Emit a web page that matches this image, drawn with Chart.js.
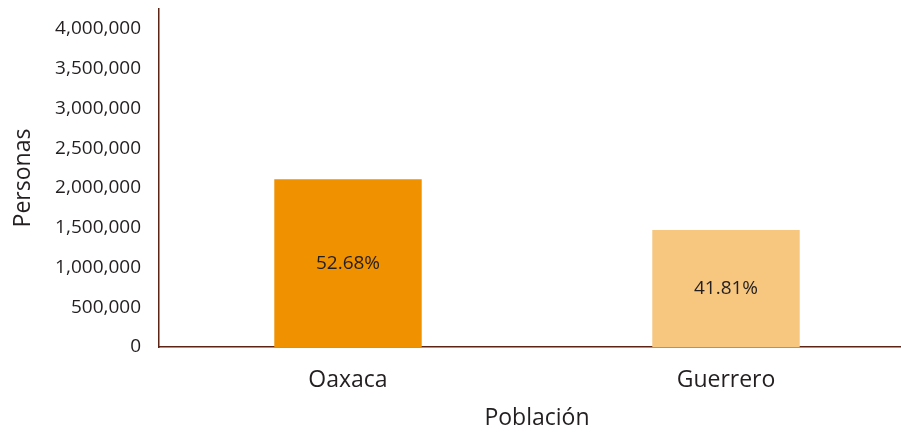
<!DOCTYPE html>
<html>
<head>
<meta charset="utf-8">
<script src="https://cdn.jsdelivr.net/npm/chart.js@4"></script>
<style>
html,body{margin:0;padding:0;background:#fff;overflow:hidden;width:901px;height:432px;}
canvas{display:block;}
</style>
</head>
<body>
<canvas id="c" width="915" height="432"></canvas>
<script>
const categories = ['Oaxaca', 'Guerrero'];
const population = [2110000, 1470000];
const percentLabels = ['52.68%', '41.81%'];
const barColors = ['#F09100', '#F7C77F'];
const yTicks = [0, 500000, 1000000, 1500000, 2000000, 2500000, 3000000, 3500000, 4000000];
const yMax = 4250000;

const textColor = '#231F20';
const axisColor = '#5E2314';
const fontFamily = '"Open Sans", sans-serif';

const barLabelPlugin = {
  id: 'barLabels',
  afterDatasetsDraw(chart) {
    const ctx = chart.ctx;
    const meta = chart.getDatasetMeta(0);
    ctx.save();
    ctx.fillStyle = textColor;
    ctx.font = '19px ' + fontFamily;
    ctx.textAlign = 'center';
    ctx.textBaseline = 'middle';
    meta.data.forEach((bar, i) => {
      const p = bar.getProps(['x', 'y', 'base'], true);
      ctx.fillText(percentLabels[i], p.x, (p.y + p.base) / 2);
    });
    ctx.restore();
  }
};

new Chart(document.getElementById('c'), {
  type: 'bar',
  data: {
    labels: categories,
    datasets: [{
      data: population,
      backgroundColor: barColors,
      borderWidth: 0,
      barPercentage: 0.39,
      categoryPercentage: 1
    }]
  },
  options: {
    responsive: false,
    animation: false,
    devicePixelRatio: 1,
    layout: { autoPadding: false, padding: { top: 9, left: 0, right: 0, bottom: 0 } },
    plugins: { legend: { display: false }, tooltip: { enabled: false } },
    scales: {
      x: {
        offset: true,
        grid: { display: false },
        border: { display: true, color: axisColor, width: 1.5 },
        ticks: { color: textColor, font: { family: fontFamily, size: 23 }, padding: 12 },
        title: { display: true, text: 'Población', color: textColor, font: { family: fontFamily, size: 23 }, padding: { top: 0, bottom: 0 } },
        afterFit(scale) { scale.height = 85; scale.paddingLeft = 0; scale.paddingRight = 0; }
      },
      y: {
        min: 0,
        max: yMax,
        grid: { display: false },
        border: { display: true, color: axisColor, width: 1.5 },
        ticks: {
          color: textColor,
          font: { family: fontFamily, size: 19 },
          padding: 10,
          callback: (v) => v.toLocaleString('en-US')
        },
        afterBuildTicks(scale) { scale.ticks = yTicks.map(v => ({ value: v })); },
        title: { display: true, text: 'Personas', color: textColor, font: { family: fontFamily, size: 23 }, padding: { top: 10, bottom: 0 } },
        afterFit(scale) { scale.width = 159; scale.paddingTop = 0; scale.paddingBottom = 0; }
      }
    }
  },
  plugins: [barLabelPlugin]
});
</script>
</body>
</html>
